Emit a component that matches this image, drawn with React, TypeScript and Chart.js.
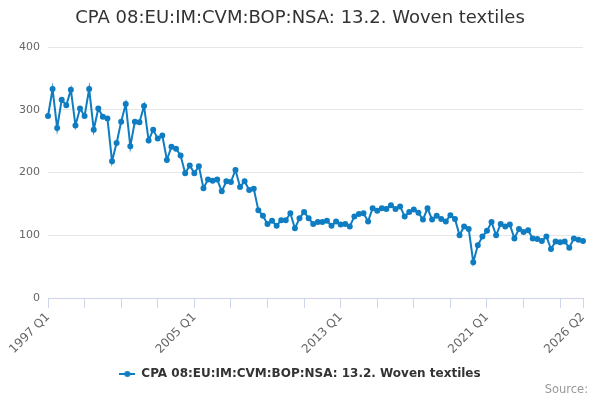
import React, { useEffect, useRef } from "react";
import { Chart, registerables } from "chart.js";

Chart.register(...registerables);

const seriesName = "CPA 08:EU:IM:CVM:BOP:NSA: 13.2. Woven textiles";
const firstYear = 1997;
const lastYear = 2026;
const quarterNames = ["Q1", "Q2", "Q3", "Q4"];

// quarterly values
const values1997to2004 = [
  290, 333, 271, 316, 307, 332, 275, 302, 290, 333, 268, 302, 289, 286, 218, 247,
  281, 309, 242, 281, 280, 306, 251, 268, 254, 259, 220, 241, 238, 227, 199, 211,
];
const values2005to2012 = [
  199, 210, 175, 189, 187, 189, 170, 186, 185, 204, 177, 186, 172, 174, 140, 131,
  118, 123, 115, 124, 124, 135, 111, 127, 137, 127, 118, 121, 121, 123, 115, 122,
];
const values2013to2020 = [
  117, 118, 114, 130, 134, 135, 122, 143, 139, 143, 142, 148, 142, 146, 130, 137,
  141, 136, 125, 143, 125, 131, 126, 122, 132, 126, 100, 114, 110, 57, 84, 98,
];
const values2021to2026 = [
  107, 121, 100, 118, 114, 117, 95, 110, 105, 108, 95, 94, 91, 98, 78, 90,
  89, 90, 80, 95, 93, 91,
];

const shownTicks = ["1997 Q1", "2005 Q1", "2013 Q1", "2021 Q1", "2026 Q2"];
const yTicks = [0, 100, 200, 300, 400];

const lineColor = "#0f7dc2";

function legendSymbol(color: string) {
  const c = document.createElement("canvas");
  c.width = 16;
  c.height = 8;
  const g = c.getContext("2d");
  if (g) {
    g.strokeStyle = color;
    g.lineWidth = 2;
    g.beginPath();
    g.moveTo(0, 4);
    g.lineTo(16, 4);
    g.stroke();
    g.fillStyle = color;
    g.beginPath();
    g.arc(8, 4, 3, 0, Math.PI * 2);
    g.fill();
  }
  return c;
}

// credits text in the bottom right corner
const creditsPlugin = {
  id: "credits",
  afterDraw(chart: Chart) {
    const g = chart.ctx;
    g.save();
    g.font = "11.5px 'DejaVu Sans', sans-serif";
    g.fillStyle = "#999999";
    g.textAlign = "right";
    g.textBaseline = "middle";
    g.fillText("Source:", 588, 390);
    g.restore();
  },
};

export default function App() {
  const chartRef = useRef<HTMLCanvasElement | null>(null);
  const chartInstanceRef = useRef<Chart | null>(null);

  useEffect(() => {
    if (!chartRef.current) return;
    const ctx = chartRef.current.getContext("2d");
    if (!ctx) return;
    if (chartInstanceRef.current) chartInstanceRef.current.destroy();

    const values = [
      ...values1997to2004,
      ...values2005to2012,
      ...values2013to2020,
      ...values2021to2026,
    ];
    const labels: string[] = [];
    for (let y = firstYear; y <= lastYear; y++) {
      for (const q of quarterNames) labels.push(y + " " + q);
    }
    labels.length = values.length;
    const lastIndex = values.length - 1;

    Chart.defaults.font.family = "'DejaVu Sans', sans-serif";

    chartInstanceRef.current = new Chart(ctx, {
      type: "line",
      data: {
        labels,
        datasets: [
          {
            label: seriesName,
            data: values,
            borderColor: lineColor,
            backgroundColor: lineColor,
            borderWidth: 2,
            pointRadius: 2,
            pointHoverRadius: 3,
            tension: 0,
          },
        ],
      },
      options: {
        animation: false,
        responsive: false,
        layout: { padding: { left: 17, right: 17, top: 0, bottom: 10 } },
        scales: {
          x: {
            afterFit: (axis: any) => {
              axis.height = 67;
            },
            grid: {
              drawOnChartArea: false,
              drawTicks: true,
              tickLength: 10,
              tickColor: (c: any) =>
                c.index % 8 === 0 || c.index === lastIndex ? "#ccd6eb" : "rgba(0,0,0,0)",
            },
            border: { color: "#ccd6eb", width: 1 },
            ticks: {
              autoSkip: false,
              minRotation: 45,
              maxRotation: 45,
              color: "#666666",
              font: { size: 12 },
              padding: 2,
              callback: function (this: any, value: any) {
                const l = this.getLabelForValue(value);
                return shownTicks.includes(l) ? l : "";
              },
            },
          },
          y: {
            min: yTicks[0],
            max: yTicks[yTicks.length - 1],
            afterFit: (axis: any) => {
              axis.width = 31;
            },
            grid: { color: "#e6e6e6", drawTicks: false },
            border: { display: false },
            ticks: {
              stepSize: 100,
              color: "#666666",
              font: { size: 11 },
              padding: 8,
            },
          },
        },
        plugins: {
          title: {
            display: true,
            text: seriesName,
            color: "#333333",
            font: { size: 18, weight: "normal" },
            padding: { top: 8, bottom: 17.4 },
          },
          legend: {
            position: "bottom",
            labels: {
              usePointStyle: true,
              pointStyle: legendSymbol(lineColor) as any,
              pointStyleWidth: 16,
              boxWidth: 16,
              color: "#333333",
              font: { size: 12, weight: "bold" },
              padding: 3,
            },
          },
          tooltip: { enabled: false },
        },
      } as any,
      plugins: [creditsPlugin],
    });

    return () => {
      if (chartInstanceRef.current) {
        chartInstanceRef.current.destroy();
        chartInstanceRef.current = null;
      }
    };
  }, []);

  return (
    <div style={{ position: "absolute", left: 0, top: 0, width: 600, height: 400, background: "#fff" }}>
      <canvas ref={chartRef} width={600} height={400} style={{ width: "600px", height: "400px" }} />
    </div>
  );
}
